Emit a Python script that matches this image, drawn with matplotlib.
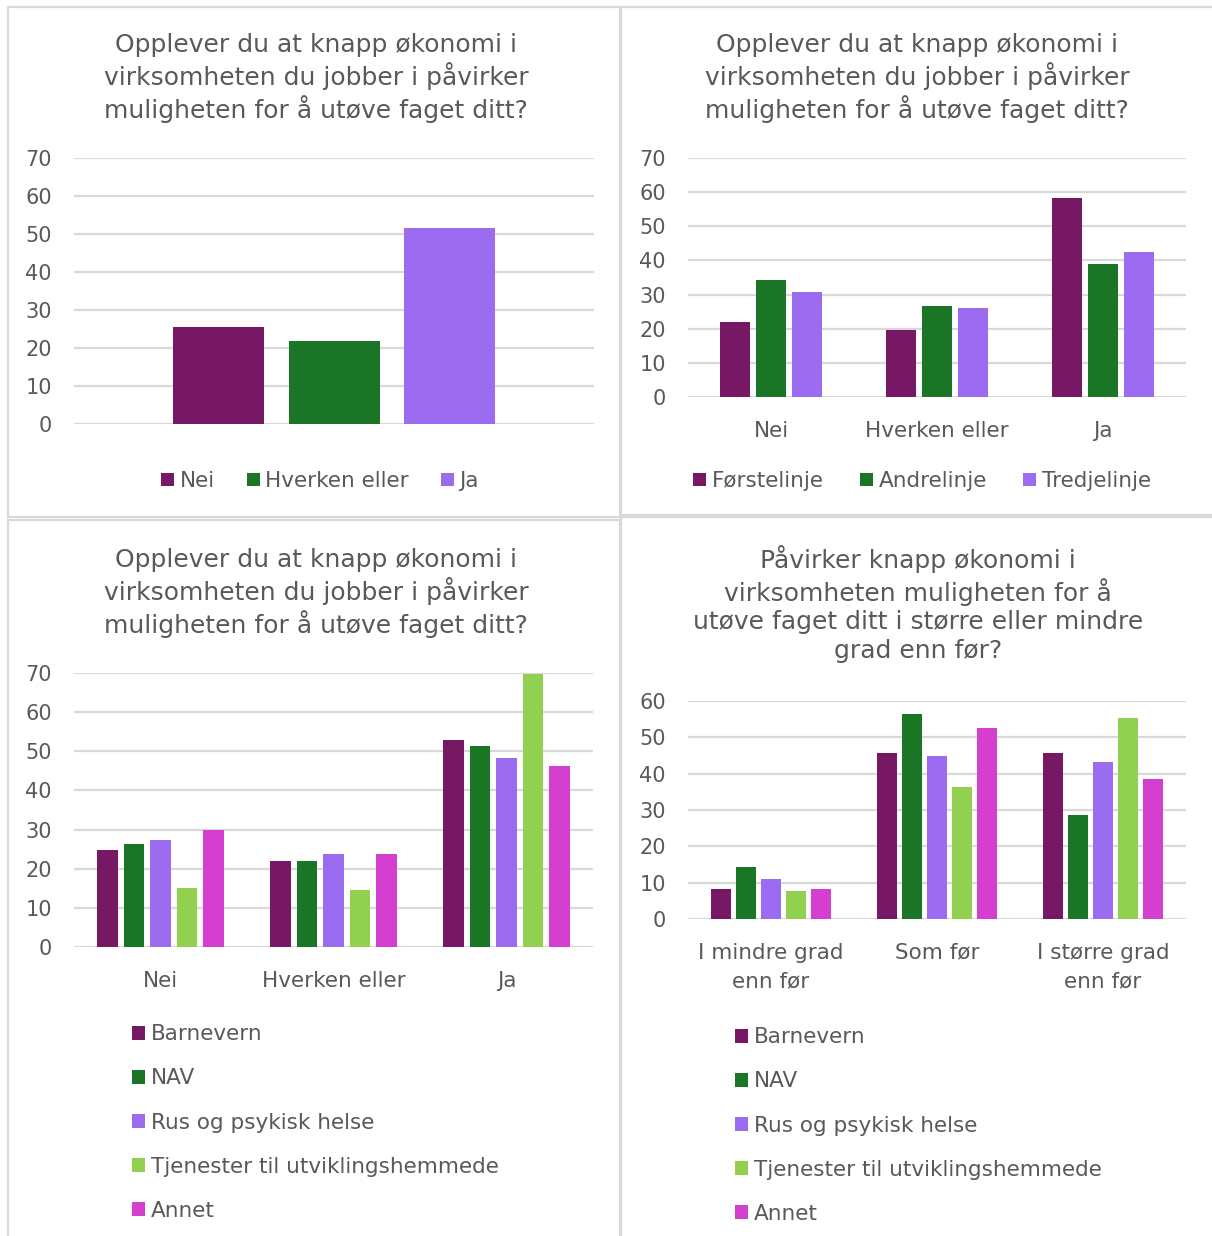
import matplotlib
matplotlib.use("Agg")
import matplotlib.pyplot as plt
import numpy as np
from matplotlib.patches import Rectangle

plt.rcParams['font.family'] = ['DejaVu Sans']

W, H = 1212, 1236
GREY = '#595959'
GRID = '#d9d9d9'

# ---- data ----
p1_series = ['Nei', 'Hverken eller', 'Ja']
p1_values = [25.5, 21.8, 51.7]

p2_cats = ['Nei', 'Hverken eller', 'Ja']
p2_series = ['Førstelinje', 'Andrelinje', 'Tredjelinje']
p2_forste = [22.0, 19.6, 58.4]
p2_andre = [34.3, 26.7, 39.0]
p2_tredje = [30.8, 26.1, 42.5]

p3_cats = ['Nei', 'Hverken eller', 'Ja']
p4_cats = ['I mindre grad\nenn før', 'Som før', 'I større grad\nenn før']
sektor = ['Barnevern', 'NAV', 'Rus og psykisk helse',
          'Tjenester til utviklingshemmede', 'Annet']
p3_barnevern = [24.8, 21.9, 52.8]
p3_nav = [26.3, 21.9, 51.3]
p3_rus = [27.3, 23.8, 48.3]
p3_tjenester = [15.1, 14.6, 69.7]
p3_annet = [29.9, 23.8, 46.2]

p4_barnevern = [8.2, 45.6, 45.6]
p4_nav = [14.3, 56.5, 28.5]
p4_rus = [11.0, 45.0, 43.3]
p4_tjenester = [7.7, 36.2, 55.4]
p4_annet = [8.2, 52.7, 38.4]

tittel1 = 'Opplever du at knapp økonomi i\nvirksomheten du jobber i påvirker\nmuligheten for å utøve faget ditt?'
tittel4 = 'Påvirker knapp økonomi i\nvirksomheten muligheten for å\nutøve faget ditt i større eller mindre\ngrad enn før?'

farger = ['#761864', '#1a7526', '#9c6cf0', '#92d050', '#d43fcf']

TS = 18     # title size
LS = 15.5   # legend / category label size

fig = plt.figure(figsize=(W / 100, H / 100), dpi=100)


def px(x0, y0, x1, y1):
    return [x0 / W, 1 - y1 / H, (x1 - x0) / W, (y1 - y0) / H]


def stil(ax, ymax):
    ax.set_ylim(0, ymax)
    ax.set_yticks(np.arange(0, ymax + 1, 10))
    for s in ax.spines.values():
        s.set_visible(False)
    ax.yaxis.grid(True, color=GRID, lw=1.6)
    ax.set_axisbelow(True)
    ax.tick_params(axis='y', length=0, pad=16, labelsize=15, labelcolor=GREY)
    ax.tick_params(axis='x', length=0, pad=17, labelsize=LS, labelcolor=GREY)


def ramme(x0, y0, x1, y1):
    fig.patches.append(Rectangle((x0 / W, 1 - y1 / H), (x1 - x0) / W, (y1 - y0) / H,
                                 transform=fig.transFigure, fill=False,
                                 ec=GRID, lw=1.6))


def legende(ax, x, y, loc, **kw):
    ax.legend(loc=loc, bbox_to_anchor=(x / W, 1 - y / H),
              bbox_transform=fig.transFigure, frameon=False, fontsize=LS,
              labelcolor=GREY, handlelength=0.6, handleheight=0.6,
              handletextpad=0.25, **kw)


ramme(8, 7, 620, 517)
ramme(621, 7, 1214, 515)
ramme(8, 520, 620, 1240)
ramme(621, 517, 1214, 1240)

# ---- panel 1 ----
ax1 = fig.add_axes(px(74, 158, 594, 424))
step = 0.223
for i, (lab, v) in enumerate(zip(p1_series, p1_values)):
    ax1.bar((i - 1) * step, v, width=0.175, color=farger[i], label=lab)
ax1.set_xlim(-0.5, 0.5)
ax1.set_xticks([])
stil(ax1, 70)
fig.text(316 / W, 1 - 78 / H, tittel1, ha='center', va='center', fontsize=TS,
         color=GREY, linespacing=1.22)
legende(ax1, 320, 481, 'center', ncol=3, columnspacing=1.5)

# ---- panel 2 ----
ax2 = fig.add_axes(px(688, 158, 1186, 397))
x = np.arange(len(p2_cats))
for j, vals in enumerate([p2_forste, p2_andre, p2_tredje]):
    ax2.bar(x + (j - 1) * 0.217, vals, width=0.175, color=farger[j],
            label=p2_series[j])
ax2.set_xlim(-0.5, 2.5)
ax2.set_xticks(x)
ax2.set_xticklabels(p2_cats)
stil(ax2, 70)
fig.text(917 / W, 1 - 78 / H, tittel1, ha='center', va='center', fontsize=TS,
         color=GREY, linespacing=1.22)
legende(ax2, 922, 481, 'center', ncol=3, columnspacing=1.7)

# ---- panel 3 ----
ax3 = fig.add_axes(px(74, 673, 593, 947))
x = np.arange(len(p3_cats))
for j, vals in enumerate([p3_barnevern, p3_nav, p3_rus, p3_tjenester, p3_annet]):
    ax3.bar(x + (j - 2) * 0.153, vals, width=0.12, color=farger[j], label=sektor[j])
ax3.set_xlim(-0.5, 2.5)
ax3.set_xticks(x)
ax3.set_xticklabels(p3_cats)
stil(ax3, 70)
fig.text(316 / W, 1 - 593 / H, tittel1, ha='center', va='center', fontsize=TS,
         color=GREY, linespacing=1.22)
legende(ax3, 113, 1005, 'upper left', ncol=1, labelspacing=1.12)

# ---- panel 4 ----
ax4 = fig.add_axes(px(688, 701, 1186, 919))
x = np.arange(len(p4_cats))
for j, vals in enumerate([p4_barnevern, p4_nav, p4_rus, p4_tjenester, p4_annet]):
    ax4.bar(x + (j - 2) * 0.15, vals, width=0.12, color=farger[j], label=sektor[j])
ax4.set_xlim(-0.5, 2.5)
ax4.set_xticks(x)
ax4.set_xticklabels(p4_cats, linespacing=1.55)
stil(ax4, 60)
fig.text(918 / W, 1 - 604 / H, tittel4, ha='center', va='center', fontsize=TS,
         color=GREY, linespacing=1.22)
legende(ax4, 716, 1008, 'upper left', ncol=1, labelspacing=1.12)

fig.savefig('out.png', dpi=100)
